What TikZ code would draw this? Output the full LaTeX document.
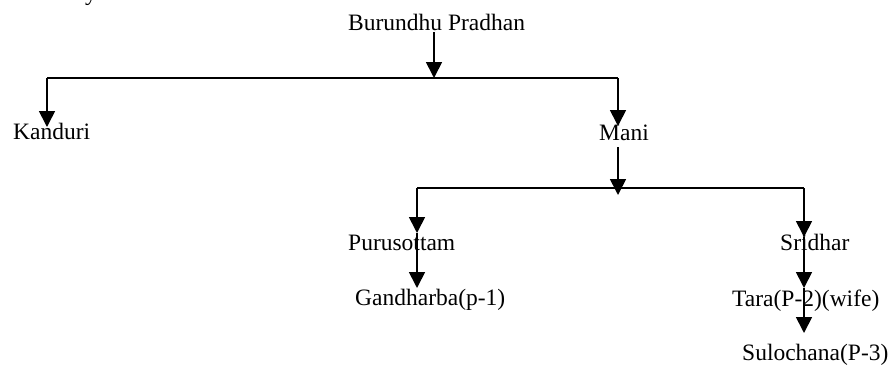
\documentclass[tikz,border=0pt]{standalone}
\usepackage{fontspec}
\setmainfont{Liberation Serif}
\usetikzlibrary{arrows.meta,positioning}

\begin{document}
\begin{tikzpicture}[
    x=1pt, y=-1pt,
    font=\fontsize{23.5}{28}\selectfont,
    person/.style={anchor=base west, inner sep=0pt},
    link/.style={line width=1.7pt},
    down/.style={
        -{Triangle[length=16pt, width=16pt]}, line width=1.7pt
    }
]
\useasboundingbox (0,0) rectangle (891,370);

% Names
\node[person] (frag) at (85, 0) {y};
\node[person] (burundhu) at (348, 30) {Burundhu Pradhan};
\node[person] (kanduri) at (13, 139) {Kanduri};
\node[person] (mani) at (599, 140) {Mani};
\node[person] (puru) at (348, 250) {Purusottam};
\node[person] (gandh) at (355, 305) {Gandharba(p-1)};
\node[person] (sridhar) at (780, 250) {Sridhar};
\node[person] (tara) at (732, 306) {Tara(P-2)(wife)};
\node[person] (sulo) at (742, 360) {Sulochana(P-3)};

% First generation
\coordinate (b1Top) at (434, 32);
\coordinate (b1Mid) at (434, 78);
\coordinate (b1L) at (47, 78);
\coordinate (b1R) at (618, 78);
\coordinate (kanT) at (47, 127);
\coordinate (manT) at (618, 126);
\draw[down] (b1Top) -- (b1Mid);
\draw[link] (b1L) -- (b1R);
\draw[down] (b1L) -- (kanT);
\draw[down] (b1R) -- (manT);

% Second generation
\coordinate (b2Top) at (618, 147);
\coordinate (b2Mid) at (618, 195);
\coordinate (b2L) at (417, 188);
\coordinate (b2R) at (804, 188);
\coordinate (purT) at (417, 233);
\coordinate (ganT) at (417, 288);
\coordinate (sriT) at (804, 237);
\coordinate (tarT) at (804, 288);
\coordinate (sulT) at (804, 333);
\draw[link] (b2L) -- (b2R);
\draw[down] (b2Top) -- (b2Mid);
\draw[down] (b2L) -- (purT);
\draw[down] (purT) -- (ganT);
\draw[down] (b2R) -- (sriT);
\draw[down] (sriT) -- (tarT);
\draw[down] (tarT) -- (sulT);

\end{tikzpicture}
\end{document}
